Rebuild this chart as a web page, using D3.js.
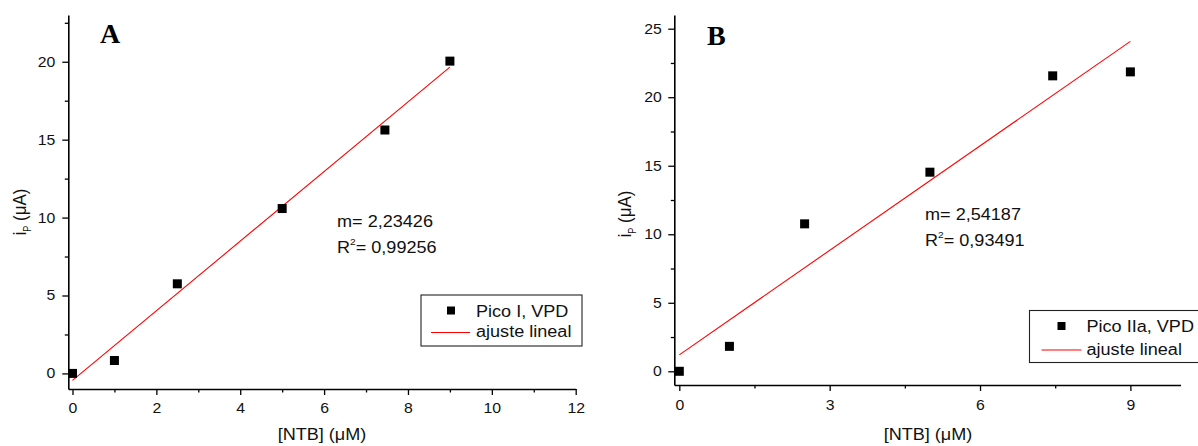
<!DOCTYPE html>
<html><head><meta charset="utf-8">
<script src="https://cdn.jsdelivr.net/npm/d3@7/dist/d3.min.js"></script>
<style>
body{margin:0;background:#fff}
svg{display:block}
</style>
</head><body>
<svg id="chart" width="1198" height="446"></svg>
<script>
// ---------- Panel A data ----------
const concA = [0, 1, 2.5, 5, 7.45, 9];
const currentA = [0, 0.83, 5.75, 10.58, 15.62, 20.04];
const fitA = [2.23426, -0.45];           // slope, intercept
const slopeTextA = "2,23426";
const r2TextA = "0,99256";
const xTicksA = [0, 2, 4, 6, 8, 10, 12];
const xMinorA = [1, 3, 5, 7, 9, 11];
const yTicksA = [0, 5, 10, 15, 20];
const yMinorA = [2.5, 7.5, 12.5, 17.5, 22.5];
const seriesNameA = "Pico I, VPD";

// ---------- Panel B data ----------
const concB = [0, 1, 2.5, 5, 7.45, 9];
const currentB = [0, 1.82, 10.76, 14.53, 21.56, 21.85];
const fitB = [2.54187, 1.2];
const slopeTextB = "2,54187";
const r2TextB = "0,93491";
const xTicksB = [0, 3, 6, 9];
const xMinorB = [1.5, 4.5, 7.5];
const yTicksB = [0, 5, 10, 15, 20, 25];
const yMinorB = [2.5, 7.5, 12.5, 17.5, 22.5];
const seriesNameB = "Pico IIa, VPD";

const fitName = "ajuste lineal";
const xTitle = "[NTB] (\u03BCM)";

const FONT = "'Liberation Sans', Arial, sans-serif";
const SX = 1.13;   // horizontal stretch of the original figure's text
const svg = d3.select("#chart");

function stretched(parent, x, y, size, anchor) {
  return parent.append("g").attr("transform", `translate(${x},${y}) scale(${SX},1)`)
    .append("text").attr("x", 0).attr("y", 0)
    .attr("text-anchor", anchor || "start")
    .attr("font-family", FONT).attr("font-size", size).attr("fill", "#111");
}

function panel(o) {
  const g = svg.append("g");
  const x = d3.scaleLinear().domain(o.xDomain).range([o.left, o.right]);
  const y = d3.scaleLinear().domain(o.yDomain).range([o.bottom, o.top]);

  const styleAxis = s => {
    s.attr("font-family", FONT).attr("font-size", 14);
    s.selectAll(".domain").attr("stroke", "#000").attr("stroke-width", 1.6);
    s.selectAll(".tick line").attr("stroke", "#000").attr("stroke-width", 1.3);
    s.selectAll(".tick text").attr("fill", "#111");
  };

  // minor ticks
  g.append("g").attr("transform", `translate(0,${o.bottom})`)
    .call(d3.axisBottom(x).tickValues(o.xMinor).tickSize(3.5).tickFormat(""))
    .call(s => s.select(".domain").remove()).call(styleAxis);
  g.append("g").attr("transform", `translate(${o.left},0)`)
    .call(d3.axisLeft(y).tickValues(o.yMinor).tickSize(3.5).tickFormat(""))
    .call(s => s.select(".domain").remove()).call(styleAxis);

  // major axes
  g.append("g").attr("transform", `translate(0,${o.bottom})`)
    .call(d3.axisBottom(x).tickValues(o.xTicks).tickSize(6).tickSizeOuter(0).tickPadding(o.xPad).tickFormat(d3.format("d")))
    .call(styleAxis)
    .call(s => s.selectAll(".tick text").attr("transform", `scale(${SX},1)`));
  g.append("g").attr("transform", `translate(${o.left},0)`)
    .call(d3.axisLeft(y).tickValues(o.yTicks).tickSize(6).tickSizeOuter(0).tickPadding(7).tickFormat(d3.format("d")))
    .call(styleAxis)
    .call(s => s.selectAll(".tick text").attr("x", 0).attr("transform", `translate(${-o.yLabGap},0) scale(${SX},1)`));

  // fit line
  const x0 = d3.min(o.xs), x1 = d3.max(o.xs);
  const line = d3.line().x(d => x(d)).y(d => y(o.fit[0] * d + o.fit[1]));
  g.append("path").datum([x0, x1]).attr("d", line)
    .attr("fill", "none").attr("stroke", "#ff0000").attr("stroke-width", 1.1);

  // points
  const pts = o.xs.map((v, i) => [v, o.ys[i]]);
  g.selectAll("rect.pt").data(pts).join("rect").attr("class", "pt")
    .attr("x", d => x(d[0]) - 4.5).attr("y", d => y(d[1]) - 4.5)
    .attr("width", 9).attr("height", 9).attr("fill", "#000");

  // axis titles
  stretched(g, o.xTitleX, 440, 16, "middle").text(xTitle);
  const yt = g.append("text").attr("transform", `translate(${o.yTitleX},${o.yTitleY}) rotate(-90) scale(1,${SX})`)
    .attr("text-anchor", "middle").attr("font-family", FONT).attr("font-size", 17).attr("fill", "#111");
  yt.append("tspan").text("i");
  yt.append("tspan").attr("font-size", 9).attr("dy", 4).text("P");
  yt.append("tspan").attr("dy", -4).text(" (\u03BCA)");

  // panel letter
  g.append("text").attr("x", o.letterX).attr("y", o.letterY)
    .attr("font-family", "'Liberation Serif', 'Times New Roman', serif").attr("font-weight", "bold")
    .attr("font-size", 28).attr("fill", "#000").text(o.letter);

  // stats annotation
  stretched(g, o.statX, o.statY, 16).text("m= " + o.slopeText);
  const r2 = stretched(g, o.statX, o.statY + 26, 16);
  r2.append("tspan").text("R");
  r2.append("tspan").attr("font-size", 9).attr("dy", -8).text("2");
  r2.append("tspan").attr("dy", 8).text("= " + o.r2Text);

  // legend
  const lg = g.append("g").attr("transform", `translate(${o.legX},${o.legY})`);
  lg.append("rect").attr("x", 0).attr("y", 0).attr("width", o.legW).attr("height", o.legH)
    .attr("fill", "#fff").attr("stroke", "#222").attr("stroke-width", 1.1);
  lg.append("rect").attr("x", o.legMarkX - 4).attr("y", o.legRow1 - 10).attr("width", 8).attr("height", 8).attr("fill", "#000");
  lg.append("line").attr("x1", o.legLineX1).attr("x2", o.legLineX2).attr("y1", o.legRow2 - 4.5).attr("y2", o.legRow2 - 4.5)
    .attr("stroke", "#ff0000").attr("stroke-width", 1.1);
  stretched(lg, o.legTextX, o.legRow1, 16).text(o.seriesName);
  stretched(lg, o.legTextX, o.legRow2, 16).text(fitName);
}

panel({
  xs: concA, ys: currentA, fit: fitA, slopeText: slopeTextA, r2Text: r2TextA,
  xTicks: xTicksA, xMinor: xMinorA, yTicks: yTicksA, yMinor: yMinorA, seriesName: seriesNameA,
  xDomain: [-0.1, 12], yDomain: [-1, 23],
  left: 68.3, right: 575.7, top: 15, bottom: 389,
  xPad: 8, yLabGap: 13,
  xTitleX: 322, yTitleX: 26, yTitleY: 212,
  letter: "A", letterX: 100, letterY: 43,
  statX: 337, statY: 227,
  legX: 421, legY: 295, legW: 161, legH: 51,
  legMarkX: 30, legLineX1: 10, legLineX2: 49, legTextX: 55, legRow1: 21.5, legRow2: 42
});

panel({
  xs: concB, ys: currentB, fit: fitB, slopeText: slopeTextB, r2Text: r2TextB,
  xTicks: xTicksB, xMinor: xMinorB, yTicks: yTicksB, yMinor: yMinorB, seriesName: seriesNameB,
  xDomain: [-0.1, 10], yDomain: [-1, 26],
  left: 674.3, right: 1180.5, top: 15, bottom: 385,
  xPad: 9, yLabGap: 12.5,
  xTitleX: 928, yTitleX: 631, yTitleY: 214,
  letter: "B", letterX: 707, letterY: 45,
  statX: 925, statY: 220,
  legX: 1029.5, legY: 310.5, legW: 175, legH: 52,
  legMarkX: 32, legLineX1: 12, legLineX2: 52, legTextX: 57, legRow1: 21.5, legRow2: 44
});
</script>
</body></html>
